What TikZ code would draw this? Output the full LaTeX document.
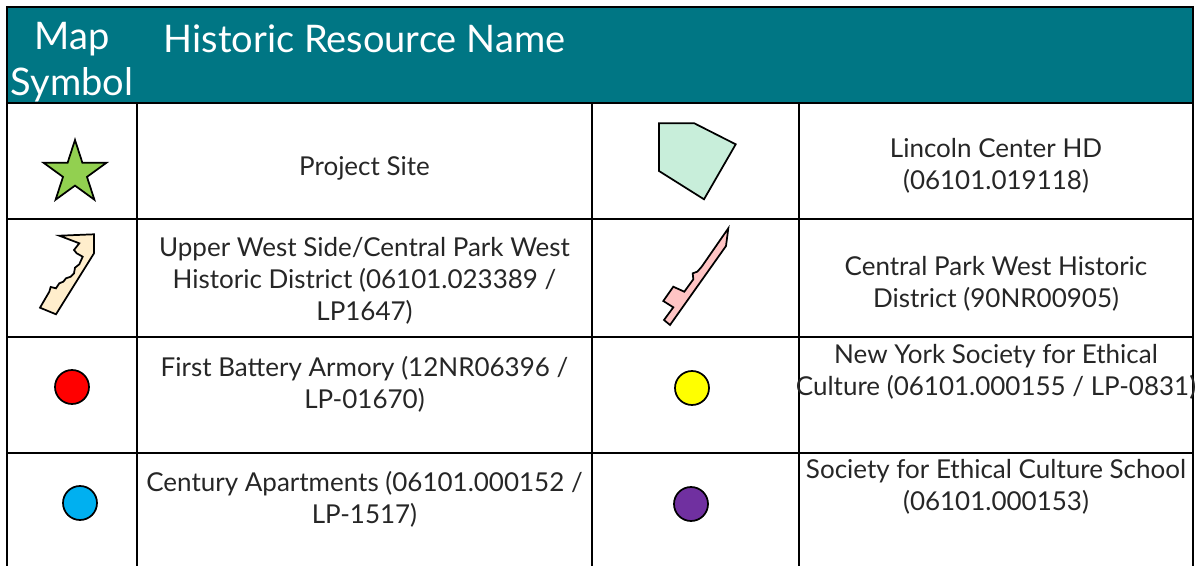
\documentclass[tikz,border=0pt]{standalone}
\usepackage{fontspec}
\setmainfont{Lato}
\definecolor{headteal}{RGB}{0,118,132}
\definecolor{stargreen}{RGB}{146,208,80}
\definecolor{lcgreen}{RGB}{200,238,218}
\definecolor{uwstan}{RGB}{255,238,204}
\definecolor{cpwpink}{RGB}{255,196,196}
\definecolor{symred}{RGB}{255,0,0}
\definecolor{symyellow}{RGB}{255,255,0}
\definecolor{symblue}{RGB}{0,176,240}
\definecolor{sympurple}{RGB}{112,48,160}
\begin{document}
\begin{tikzpicture}[x=0.75pt,y=-0.75pt,
  grid/.style={line width=1.5pt,black},
  cell/.style={font=\fontsize{19.5pt}{24pt}\selectfont, align=center, inner sep=0pt, text=black!85},
  headtxt/.style={font=\fontsize{28.5pt}{34pt}\selectfont, align=center, inner sep=0pt, text=white},
  sym/.style={draw=black, line width=1.3pt, line join=miter},
  dot/.style={circle, draw=black, line width=1.3pt, minimum size=25.5pt, inner sep=0pt}]
\useasboundingbox (0,0) rectangle (1198,566);
% header
\fill[headteal] (7,7) rectangle (1193,103);
\draw[grid] (7,566) -- (7,7) -- (1193,7) -- (1193,566);
\draw[grid] (7,103) -- (1193,103);
% body grid
\foreach \y in {219,337,453} \draw[grid] (7,\y) -- (1193,\y);
\foreach \x in {137,592,799} \draw[grid] (\x,103) -- (\x,566);
% header text
\node[headtxt] (hmap) at (72,62) {Map\\Symbol};
\node[headtxt] (hname) at (364.5,39) {Historic Resource Name};
% row texts
\node[cell] (t1a) at (364.5,168) {Project Site};
\node[cell] (t1b) at (996,166) {Lincoln Center HD\\(06101.019118)};
\node[cell] (t2a) at (364.5,281) {Upper West Side/Central Park West\\Historic District (06101.023389 /\\LP1647)};
\node[cell] (t2b) at (996,284) {Central Park West Historic\\District (90NR00905)};
\node[cell] (t3a) at (364.5,384) {First Battery Armory (12NR06396 /\\LP-01670)};
\node[cell] (t3b) at (996,372) {New York Society for Ethical\\Culture (06101.000155 / LP-0831)};
\node[cell] (t4a) at (364.5,499) {Century Apartments (06101.000152 /\\LP-1517)};
\node[cell] (t4b) at (996,487) {Society for Ethical Culture School\\(06101.000153)};
% star
\begin{scope}[shift={(75,173)}]
\draw[sym, fill=stargreen] (-90:33) -- (-54:12.6) -- (-18:33) -- (18:12.6) -- (54:33) -- (90:12.6) -- (126:33) -- (162:12.6) -- (198:33) -- (234:12.6) -- cycle;
\end{scope}
% Lincoln Center pentagon
\draw[sym, fill=lcgreen] (659,123.3) -- (694.3,123.3) -- (735.7,144.3) -- (704,199.3) -- (659,171) -- cycle;
% Upper West Side shape
\draw[sym, fill=uwstan] (59.3,235.7) -- (94,234.3) -- (94,253.3) -- (56,314.3) -- (40,307.7) -- (49.3,291.7) -- (50.7,287) -- (56,288.3) -- (59.3,283.3) -- (63.3,281.7) -- (66,278.3) -- (70.7,276.7) -- (74,273.3) -- (75,267.7) -- (79.3,264.3) -- (82.7,256.7) -- (76.7,253.3) -- (74,250) -- (79.3,243.3) -- cycle;
% Central Park West shape
\draw[sym, fill=cpwpink] (728.3,228.3) -- (726,246) -- (670,325) -- (664,320) -- (673.3,307.3) -- (663.3,301) -- (673.3,286.7) -- (684.3,291.7) -- (693.3,279.3) -- (692.7,273.3) -- (697.3,271.7) -- (701.7,266.7) -- cycle;
% circles
\node[dot, fill=symred] (c1) at (72,387) {};
\node[dot, fill=symyellow] (c2) at (692,388) {};
\node[dot, fill=symblue] (c3) at (80,503) {};
\node[dot, fill=sympurple] (c4) at (691,504) {};
\end{tikzpicture}
\end{document}
